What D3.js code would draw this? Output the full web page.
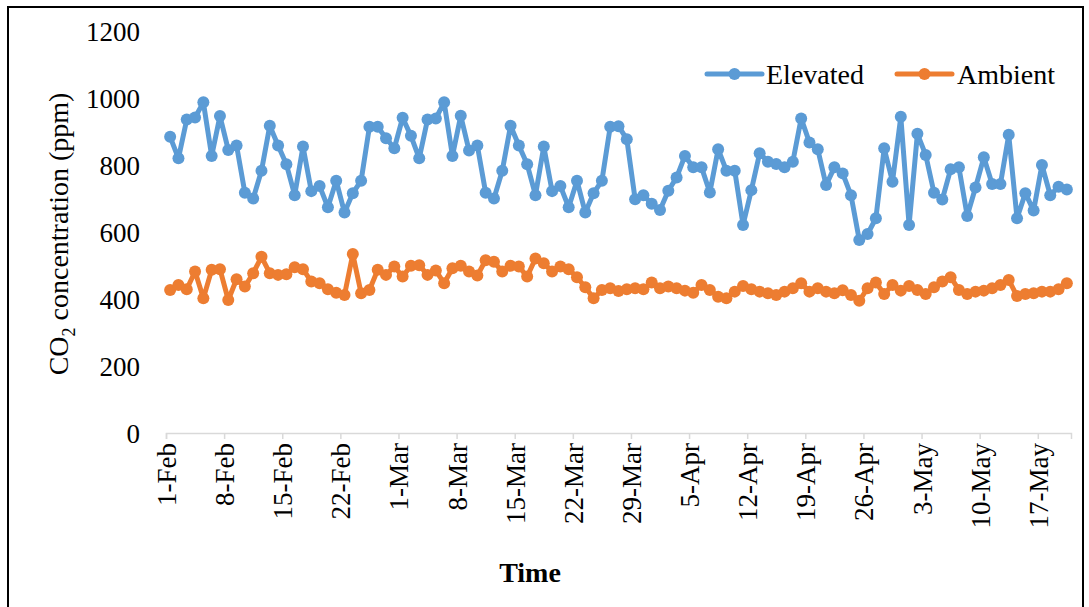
<!DOCTYPE html>
<html>
<head>
<meta charset="utf-8">
<script src="https://cdn.jsdelivr.net/npm/d3@7"></script>
<style>
  html, body { margin: 0; padding: 0; background: #fff; }
  svg { display: block; }
  text { font-family: "Liberation Serif", "Times New Roman", serif; fill: #000; }
</style>
</head>
<body>
<svg id="chart" width="1089" height="607"></svg>
<script>
// Daily CO2 readings, 1 Feb – 20 May
const firstDay = new Date(2019, 1, 1);
const lastDayExclusive = new Date(2019, 4, 21);

const elevated = [
  884, 820, 936, 942, 987, 827, 946, 845, 858, 717,
  700, 783, 917, 858, 802, 710, 855, 722, 737, 674,
  753, 658, 716, 753, 914, 914, 880, 850, 941, 887,
  820, 936, 939, 987, 827, 947, 843, 858, 717, 700,
  783, 917, 858, 802, 710, 855, 722, 737, 674, 753,
  658, 716, 753, 914, 916, 877, 698, 710, 684, 666,
  723, 763, 827, 793, 793, 718, 847, 783, 783, 621,
  725, 835, 810, 803, 793, 810, 939, 867, 847, 740,
  793, 775, 710, 576, 594, 641, 850, 750, 944, 621,
  893, 830, 717, 697, 787, 793, 648, 733, 823, 743,
  743, 890, 641, 716, 664, 800, 710, 735, 727
];

const ambient = [
  427, 442, 429, 482, 402, 487, 489, 397, 459, 437,
  477, 526, 477, 472, 474, 495, 489, 452, 447, 429,
  419, 412, 534, 417, 427, 487, 472, 497, 467, 499,
  501, 472, 485, 447, 492, 499, 482, 470, 516, 511,
  482, 499, 497, 467, 521, 507, 482, 497, 489, 465,
  435, 402, 427, 432, 424, 429, 432, 429, 449, 432,
  437, 432, 425, 419, 442, 427, 407, 402, 422, 439,
  429, 422, 417, 412, 422, 432, 447, 422, 432, 422,
  417, 426, 412, 395, 432, 449, 415, 442, 425, 439,
  427, 415, 435, 452, 465, 427, 415, 422, 425, 432,
  442, 457, 409, 415, 417, 422, 422, 429, 447
];

const seriesNames = ["Elevated", "Ambient"];
const seriesColors = ["#5B9BD5", "#ED7D31"];
const yTicks = [0, 200, 400, 600, 800, 1000, 1200];

// one date per reading, weekly tick dates from 1 Feb
const days = elevated.map((_, i) => d3.timeDay.offset(firstDay, i));
const tickDates = d3.range(0, 106, 7).map(k => d3.timeDay.offset(firstDay, k));

const svg = d3.select("#chart");

// outer frame
svg.append("rect")
  .attr("x", 8).attr("y", 7)
  .attr("width", 1075).attr("height", 605)
  .attr("fill", "none").attr("stroke", "#000").attr("stroke-width", 2);

const plot = { left: 166, right: 1071, top: 31, bottom: 433 };

const x = d3.scaleTime()
  .domain([firstDay, lastDayExclusive])
  .range([plot.left, plot.right]);
const y = d3.scaleLinear()
  .domain([0, 1200])
  .range([plot.bottom, plot.top]);

// points sit mid-day, between tick marks
const px = d => x(d3.timeHour.offset(d, 12));

// y axis (labels only)
const yAxis = svg.append("g")
  .attr("transform", `translate(${plot.left - 26},0)`)
  .call(d3.axisLeft(y).tickValues(yTicks).tickSize(0).tickPadding(0)
    .tickFormat(d3.format("d")));
yAxis.select(".domain").remove();
yAxis.selectAll("text")
  .style("font-family", '"Liberation Serif", "Times New Roman", serif')
  .style("font-size", "27px")
  .attr("dy", "0.35em")
  .attr("fill", "#000");

// x axis
const xAxis = svg.append("g")
  .attr("transform", `translate(0,${plot.bottom})`)
  .call(d3.axisBottom(x).tickValues(tickDates).tickSize(6)
    .tickFormat(d3.timeFormat("%-d-%b")));
xAxis.select(".domain").attr("stroke", "#d9d9d9").attr("stroke-width", 1.5);
xAxis.selectAll(".tick line").attr("stroke", "#d9d9d9").attr("stroke-width", 1.5);
xAxis.selectAll("text")
  .style("font-family", '"Liberation Serif", "Times New Roman", serif')
  .style("font-size", "27px")
  .attr("fill", "#000")
  .attr("transform", "rotate(-90)")
  .attr("text-anchor", "end")
  .attr("x", -10)
  .attr("y", 0)
  .attr("dy", "0.35em");

// series
const series = [elevated, ambient];
const line = d3.line()
  .x((v, i) => px(days[i]))
  .y(v => y(v));

series.forEach((vals, s) => {
  const g = svg.append("g");
  g.append("path")
    .datum(vals)
    .attr("d", line)
    .attr("fill", "none")
    .attr("stroke", seriesColors[s])
    .attr("stroke-width", 5)
    .attr("stroke-linejoin", "round")
    .attr("stroke-linecap", "round");
  g.selectAll("circle")
    .data(vals)
    .join("circle")
    .attr("cx", (v, i) => px(days[i]))
    .attr("cy", v => y(v))
    .attr("r", 6)
    .attr("fill", seriesColors[s]);
});

// legend
const legendItems = [
  { x0: 707, textX: 766 },
  { x0: 897, textX: 957 }
];
legendItems.forEach((it, s) => {
  const g = svg.append("g");
  g.append("line")
    .attr("x1", it.x0).attr("x2", it.x0 + 55)
    .attr("y1", 74).attr("y2", 74)
    .attr("stroke", seriesColors[s]).attr("stroke-width", 5)
    .attr("stroke-linecap", "round");
  g.append("circle")
    .attr("cx", it.x0 + 27.5).attr("cy", 74).attr("r", 6)
    .attr("fill", seriesColors[s]);
  g.append("text")
    .attr("x", it.textX).attr("y", 74)
    .attr("dy", "0.35em")
    .style("font-size", "28px")
    .text(seriesNames[s]);
});

// axis titles
const yTitle = svg.append("text")
  .attr("transform", "translate(68,234) rotate(-90)")
  .attr("text-anchor", "middle")
  .style("font-size", "28px");
yTitle.append("tspan").text("CO");
yTitle.append("tspan").attr("dy", 7).style("font-size", "18px").text("2");
yTitle.append("tspan").attr("dy", -7).text(" concentration (ppm)");

svg.append("text")
  .attr("x", 530).attr("y", 582)
  .attr("text-anchor", "middle")
  .style("font-size", "28px")
  .style("font-weight", "bold")
  .text("Time");
</script>
</body>
</html>
